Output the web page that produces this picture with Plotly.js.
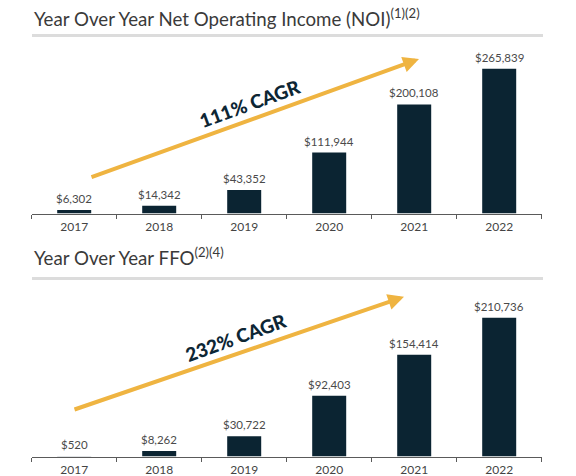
<!DOCTYPE html>
<html>
<head>
<meta charset="utf-8">
<script src="https://cdn.plot.ly/plotly-3.0.1.min.js"></script>
<style>html,body{margin:0;padding:0;background:#fff;}#chart{width:576px;height:476px;}</style>
</head>
<body>
<div id="chart"></div>
<script>
const years = ['2017', '2018', '2019', '2020', '2021', '2022'];
const noiValues = [6302, 14342, 43352, 111944, 200108, 265839];
const ffoValues = [520, 8262, 30722, 92403, 154414, 210736];
const noiTitle = 'Year Over Year Net Operating Income (NOI)<sup>(1)(2)</sup>';
const ffoTitle = 'Year Over Year FFO<sup>(2)(4)</sup>';
const noiCagr = '111% CAGR';
const ffoCagr = '232% CAGR';

const W = 576, H = 476;
const px = x => x / W;
const py = y => 1 - y / H;

const barColor = '#0b2432';
const arrowColor = '#efb441';
const labelFont = {family: 'Lato, sans-serif', size: 11.5, color: '#4a4a4a'};
const fmt = v => '$' + v.toLocaleString('en-US');

function barTrace(values, xa, ya) {
  return {type: 'bar', x: years, y: values, xaxis: xa, yaxis: ya, width: 0.4,
    marker: {color: barColor}, hoverinfo: 'skip', cliponaxis: false};
}
const traces = [barTrace(noiValues, 'x', 'y'), barTrace(ffoValues, 'x2', 'y2')];

const xDom = [px(31.7), px(541.7)];
const xAxisStyle = {
  domain: xDom, type: 'category', range: [-0.5, 5.5], fixedrange: true,
  showline: true, linecolor: '#5a5a5a', linewidth: 1,
  ticks: 'outside', tickson: 'boundaries', ticklen: 4, tickcolor: '#5a5a5a', tickwidth: 1,
  ticklabelstandoff: 2,
  showgrid: false, zeroline: false,
  tickfont: {family: 'Lato, sans-serif', size: 12, color: '#444'}
};

const annotations = [];
// value labels above each bar (x given as category index)
years.forEach((yr, i) => {
  annotations.push({xref: 'x', yref: 'y', x: i, y: noiValues[i], text: fmt(noiValues[i]),
    showarrow: false, xanchor: 'center', yanchor: 'bottom', yshift: 3, font: labelFont});
  annotations.push({xref: 'x2', yref: 'y2', x: i, y: ffoValues[i], text: fmt(ffoValues[i]),
    showarrow: false, xanchor: 'center', yanchor: 'bottom', yshift: 3, font: labelFont});
});

const titleFont = {family: 'Lato, sans-serif', size: 18.7, color: '#3a3a3a'};
annotations.push({xref: 'paper', yref: 'paper', x: px(32), y: py(32), xanchor: 'left', yanchor: 'bottom',
  text: noiTitle, showarrow: false, font: titleFont});
annotations.push({xref: 'paper', yref: 'paper', x: px(32), y: py(270.5), xanchor: 'left', yanchor: 'bottom',
  text: ffoTitle, showarrow: false, font: titleFont});

// Growth arrows
annotations.push({xref: 'paper', yref: 'paper', x: px(419), y: py(59), ax: 90 - 419, ay: 177.7 - 59,
  text: '', showarrow: true, arrowhead: 2, arrowsize: 0.8, arrowwidth: 4, arrowcolor: arrowColor, standoff: 0});
annotations.push({xref: 'paper', yref: 'paper', x: px(404), y: py(296.7), ax: 73 - 404, ay: 410 - 296.7,
  text: '', showarrow: true, arrowhead: 2, arrowsize: 0.8, arrowwidth: 4, arrowcolor: arrowColor, standoff: 0});

const cagrFont = {family: 'Lato, sans-serif', size: 19, color: '#0d2634', weight: 900};
annotations.push({xref: 'paper', yref: 'paper', x: px(249), y: py(103), xanchor: 'center', yanchor: 'middle',
  text: noiCagr, showarrow: false, textangle: -20, font: cagrFont});
annotations.push({xref: 'paper', yref: 'paper', x: px(235), y: py(337), xanchor: 'center', yanchor: 'middle',
  text: ffoCagr, showarrow: false, textangle: -20, font: cagrFont});

const shapes = [
  {type: 'line', xref: 'paper', yref: 'paper', x0: px(32), x1: px(543), y0: py(35.5), y1: py(35.5),
   line: {color: '#dcdcdc', width: 3}},
  {type: 'line', xref: 'paper', yref: 'paper', x0: px(32), x1: px(543), y0: py(278.5), y1: py(278.5),
   line: {color: '#dcdcdc', width: 3}}
];

const hiddenY = {showgrid: false, zeroline: false, showticklabels: false, showline: false, ticks: '', fixedrange: true};

const layout = {
  width: W, height: H,
  margin: {l: 0, r: 0, t: 0, b: 0},
  paper_bgcolor: '#fff', plot_bgcolor: '#fff',
  showlegend: false,
  font: {family: 'Lato, sans-serif'},
  xaxis: Object.assign({anchor: 'y'}, xAxisStyle),
  xaxis2: Object.assign({anchor: 'y2'}, xAxisStyle),
  yaxis: Object.assign({anchor: 'x', domain: [py(213.5), py(40)], range: [0, 318500]}, hiddenY),
  yaxis2: Object.assign({anchor: 'x2', domain: [py(456.5), py(283)], range: [0, 263400]}, hiddenY),
  annotations: annotations,
  shapes: shapes
};

Plotly.newPlot('chart', traces, layout, {displayModeBar: false, staticPlot: true});
</script>
</body>
</html>
